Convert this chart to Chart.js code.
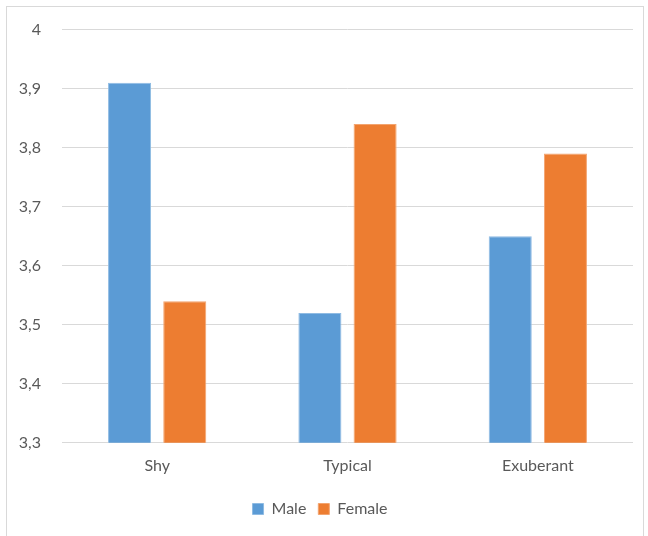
<!DOCTYPE html>
<html>
<head>
<meta charset="utf-8">
<script src="https://cdn.jsdelivr.net/npm/chart.js@4"></script>
<style>
  body { margin: 0; background: #fff; }
  #box {
    position: absolute; left: 6px; top: 6px;
    width: 636px; height: 540px;
    border: 1px solid #d9d9d9; background: #fff;
  }
  #chart { position: absolute; left: 0; top: -8px; }
</style>
</head>
<body>
<div id="box"><canvas id="chart" width="636" height="536"></canvas></div>
<script>
var categories = ['Shy', 'Typical', 'Exuberant']
var male = [3.91, 3.52, 3.65]
var female = [3.54, 3.84, 3.79]
var yMin = 3.3
var yMax = 4

var data = {
    labels: categories,
    datasets: [{
        label: 'Male',
        data: male,
        backgroundColor: '#5b9bd5',
        borderColor: '#8fbbe3',
        borderWidth: 1,
        categoryPercentage: 0.58,
        barPercentage: 0.78
    }, {
        label: 'Female',
        data: female,
        backgroundColor: '#ed7d31',
        borderColor: '#f3a46f',
        borderWidth: 1,
        categoryPercentage: 0.58,
        barPercentage: 0.78
    }]
}

var ctx = document.getElementById('chart')

new Chart(ctx, {
    type: 'bar',
    data: data,
    options: {
        responsive: false,
        animation: false,
        layout: { padding: { top: 7, right: 10, left: 0, bottom: 8 } },
        plugins: {
            tooltip: { enabled: false },
            legend: {
                position: 'bottom',
                labels: {
                    color: '#595959',
                    font: { family: 'Lato', size: 16 },
                    boxWidth: 11,
                    boxHeight: 11,
                    padding: 12
                }
            }
        },
        scales: {
            x: {
                grid: { display: false, drawTicks: false },
                border: { display: false },
                ticks: {
                    color: '#595959',
                    font: { family: 'Lato', size: 16 },
                    padding: 13.5
                }
            },
            y: {
                min: yMin,
                max: yMax,
                afterFit: function (scale) { scale.width = 55 },
                grid: { color: '#d9d9d9', drawTicks: false, lineWidth: 1 },
                border: { display: false },
                ticks: {
                    stepSize: 0.1,
                    color: '#595959',
                    font: { family: 'Lato', size: 16 },
                    padding: 21,
                    callback: function (v) {
                        return Number(v.toFixed(1)).toString().replace('.', ',')
                    }
                }
            }
        }
    }
})
</script>
</body>
</html>
